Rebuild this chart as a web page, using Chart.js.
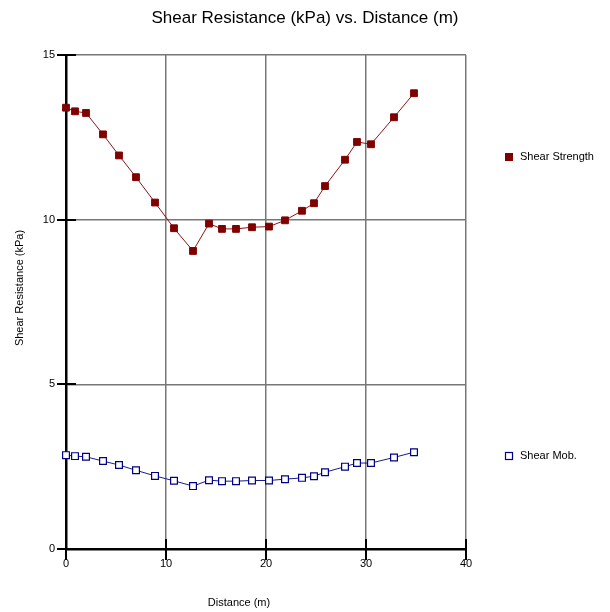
<!DOCTYPE html>
<html>
<head>
<meta charset="utf-8">
<script src="https://cdn.jsdelivr.net/npm/chart.js@4"></script>
<style>
html,body{margin:0;padding:0;background:#fff;}
#wrap{width:610px;height:612px;position:relative;}
</style>
</head>
<body>
<div id="wrap"><canvas id="c" width="610" height="612"></canvas></div>
<script>
const chartTitle = "Shear Resistance (kPa) vs. Distance (m)";
const xTitle = "Distance (m)";
const yTitle = "Shear Resistance (kPa)";
const seriesNames = ["Shear Strength", "Shear Mob."];
const distance = [0,0.9,2.0,3.7,5.3,7.0,8.9,10.8,12.7,14.3,15.6,17.0,18.6,20.3,21.9,23.6,24.8,25.9,27.9,29.1,30.5,32.8,34.8];
const strength = [13.40,13.29,13.24,12.59,11.95,11.29,10.52,9.74,9.05,9.88,9.72,9.72,9.77,9.79,9.98,10.27,10.50,11.02,11.82,12.36,12.29,13.11,13.84];
const mobilized = [2.85,2.82,2.80,2.67,2.55,2.39,2.22,2.07,1.91,2.09,2.06,2.06,2.08,2.08,2.12,2.16,2.21,2.33,2.50,2.61,2.61,2.78,2.94];
const xTicks = [0,10,20,30,40];
const yTicks = [0,5,10,15];

const FONT = '"Liberation Sans", Arial, sans-serif';
const strengthColor = '#800000';
const mobColor = '#000088';

const toPts = (xs, ys) => xs.map((x, i) => ({x: x, y: ys[i]}));

const extras = {
  id: 'extras',
  afterDraw(chart) {
    const ctx = chart.ctx;
    const xs = chart.scales.x, ys = chart.scales.y;
    const area = chart.chartArea;
    ctx.save();
    ctx.strokeStyle = '#000';
    ctx.lineWidth = 2;
    xTicks.forEach(v => {
      const px = Math.round(xs.getPixelForValue(v));
      ctx.beginPath(); ctx.moveTo(px, area.bottom - 10); ctx.lineTo(px, area.bottom + 11); ctx.stroke();
    });
    yTicks.forEach(v => {
      const py = Math.round(ys.getPixelForValue(v));
      ctx.beginPath(); ctx.moveTo(area.left - 9, py); ctx.lineTo(area.left + 10, py); ctx.stroke();
    });
    ctx.fillStyle = '#000';
    ctx.font = '17px ' + FONT;
    ctx.textAlign = 'center'; ctx.textBaseline = 'middle';
    ctx.fillText(chartTitle, 305, 18);
    ctx.font = '11px ' + FONT;
    ctx.fillText(xTitle, 239, 603);
    ctx.save();
    ctx.translate(20, 288);
    ctx.rotate(-Math.PI / 2);
    ctx.fillText(yTitle, 0, 0);
    ctx.restore();
    ctx.textAlign = 'left';
    ctx.fillStyle = strengthColor;
    ctx.fillRect(505, 153, 8, 8);
    ctx.fillStyle = '#000';
    ctx.fillText(seriesNames[0], 520, 157);
    ctx.strokeStyle = mobColor; ctx.lineWidth = 1.2;
    ctx.strokeRect(505.5, 452.5, 7, 7);
    ctx.fillText(seriesNames[1], 520, 456);
    ctx.restore();
  }
};

new Chart(document.getElementById('c'), {
  type: 'scatter',
  data: {
    datasets: [
      {
        label: seriesNames[0],
        data: toPts(distance, strength),
        showLine: true,
        clip: false,
        borderColor: '#8a1515',
        borderWidth: 1,
        pointStyle: 'rect',
        pointRadius: 4.8,
        pointBackgroundColor: strengthColor,
        pointBorderColor: strengthColor,
        pointBorderWidth: 1
      },
      {
        label: seriesNames[1],
        data: toPts(distance, mobilized),
        showLine: true,
        clip: false,
        borderColor: '#1a1a8a',
        borderWidth: 1,
        pointStyle: 'rect',
        pointRadius: 4.8,
        pointBackgroundColor: '#ffffff',
        pointBorderColor: mobColor,
        pointBorderWidth: 1.2
      }
    ]
  },
  options: {
    responsive: false,
    animation: false,
    layout: {padding: {top: 55, right: 144, left: 0, bottom: 0}},
    plugins: {legend: {display: false}, tooltip: {enabled: false}, title: {display: false}},
    scales: {
      x: {
        type: 'linear', min: 0, max: 40,
        afterFit(s) { s.height = 63; },
        afterBuildTicks(s) { s.ticks = xTicks.map(v => ({value: v})); },
        grid: {color: '#777', lineWidth: 1.5, drawTicks: false},
        border: {color: '#000', width: 2.5},
        ticks: {padding: 8, color: '#000', font: {family: FONT, size: 11}}
      },
      y: {
        type: 'linear', min: 0, max: 15,
        afterFit(s) { s.width = 66; },
        afterBuildTicks(s) { s.ticks = yTicks.map(v => ({value: v})); },
        grid: {color: '#777', lineWidth: 1.5, drawTicks: false},
        border: {color: '#000', width: 2.5},
        ticks: {padding: 11, color: '#000', font: {family: FONT, size: 11}}
      }
    }
  },
  plugins: [extras]
});
</script>
</body>
</html>
